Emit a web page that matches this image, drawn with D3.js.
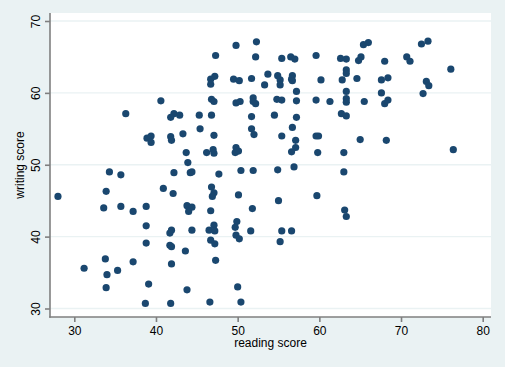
<!DOCTYPE html>
<html><head><meta charset="utf-8">
<script src="https://cdn.jsdelivr.net/npm/d3@7"></script>
<style>html,body{margin:0;padding:0;background:#eaf2f3;}svg{display:block;}</style>
</head><body>
<svg id="chart" width="505" height="367"></svg>
<script>
const xTicks = [30, 40, 50, 60, 70, 80];
const yTicks = [30, 40, 50, 60, 70];
const xTitle = "reading score";
const yTitle = "writing score";
// reading score (jittered)
const readScore = [36.3,34.3,35.7,28.0,33.9,33.6,35.7,37.2,31.2,33.8,34.0,33.9,35.3,37.2,
49.8,47.3,47.2,46.7,46.7,49.5,50.2,51.7,40.6,46.8,47.1,49.8,50.3,42.2,41.8,42.9,45.3,46.8,51.7,
52.3,52.2,55.4,56.5,57.0,59.6,62.6,63.3,65.4,66.0,65.1,64.8,53.7,53.3,54.9,55.2,55.2,56.7,56.6,56.7,
60.2,63.3,63.3,62.8,64.6,57.2,51.9,51.9,52.2,54.8,55.4,57.2,59.6,61.3,63.3,63.3,63.3,65.5,54.5,57.2,62.7,63.3,
72.5,73.3,68.0,70.7,71.1,76.1,67.6,68.4,73.1,73.4,67.6,72.7,68.0,68.4,68.2,76.4,
45.4,38.9,39.4,39.4,41.8,41.9,43.3,47.1,51.7,52.0,43.7,46.2,47.0,47.1,49.8,49.7,50.1,43.9,42.2,44.2,44.4,
47.7,50.4,51.9,40.9,42.1,46.8,47.1,46.9,50.1,38.8,43.8,44.4,44.0,46.7,51.8,49.9,47.1,38.8,
56.7,55.4,57.1,59.6,59.9,65.0,57.1,56.6,59.8,63.0,54.9,56.9,63.0,59.7,55.0,63.1,63.3,
41.7,41.9,44.4,46.5,47.2,49.7,51.6,38.8,41.7,41.9,43.6,46.7,47.2,49.8,50.2,41.9,47.3,39.1,43.8,50.0,
38.7,41.8,46.6,50.4,55.4,56.6,55.2];
// writing score (jittered)
const writeScore = [57.1,49.0,48.6,45.6,46.3,44.0,44.2,43.5,35.6,36.9,34.7,32.9,35.3,36.5,
66.6,65.2,62.3,61.9,61.2,61.9,61.7,62.0,58.9,59.1,58.8,58.6,58.8,57.1,56.6,56.9,56.9,56.9,56.7,
67.1,65.0,64.8,65.0,64.7,65.2,64.8,64.7,66.7,67.0,65.0,64.5,62.6,61.1,62.4,61.8,61.1,62.4,61.9,61.7,
61.8,63.2,62.7,61.8,62.0,60.2,59.3,58.8,58.5,59.1,59.0,58.9,59.0,58.8,60.2,59.2,58.7,58.8,56.9,56.6,57.1,56.8,
66.8,67.2,64.4,65.0,64.4,63.3,61.8,62.1,61.6,61.0,60.0,59.9,58.5,59.0,53.4,52.1,
55.0,53.7,54.0,53.1,53.9,53.4,54.3,54.1,55.0,54.2,51.7,51.7,52.1,51.6,52.4,51.7,51.9,50.3,48.9,48.9,49.0,
48.7,49.2,49.2,46.7,46.0,46.9,46.1,45.6,45.8,44.2,44.3,44.1,43.5,43.6,43.9,42.1,41.6,41.5,
55.2,54.0,53.4,54.0,54.0,53.5,52.4,51.8,51.7,51.7,49.3,49.7,49.0,45.7,45.0,43.7,42.8,
40.5,40.9,40.9,40.9,40.8,41.3,40.8,39.1,38.8,38.6,38.0,39.5,39.0,40.2,39.7,36.2,36.7,33.4,32.6,33.0,
30.7,30.7,30.9,30.9,40.8,40.8,39.3];

const svg = d3.select("#chart");
const W = 505, H = 367;
const plot = {left: 50, right: 491, top: 13, bottom: 317};
const font = "'Liberation Sans', Arial, Helvetica, sans-serif";

svg.append("rect").attr("x",0).attr("y",0).attr("width",W).attr("height",H).attr("fill","#eaf2f3");
svg.append("rect").attr("x",plot.left).attr("y",plot.top)
  .attr("width",plot.right-plot.left).attr("height",plot.bottom-plot.top).attr("fill","#ffffff");

const x = d3.scaleLinear().domain([30,80]).range([74.3,482.7]);
const y = d3.scaleLinear().domain([30,70]).range([308.5,21]);

// gridlines
svg.append("g").selectAll("line").data(yTicks).join("line")
  .attr("x1",plot.left).attr("x2",plot.right)
  .attr("y1",d=>y(d)).attr("y2",d=>y(d))
  .attr("stroke","#eaf2f3").attr("stroke-width",1.3);

// points
const data = readScore.map((r,i)=>({r:r, w:writeScore[i]}));
svg.append("g").selectAll("circle").data(data).join("circle")
  .attr("cx",d=>x(d.r)).attr("cy",d=>y(d.w)).attr("r",3.6)
  .attr("fill","#1a476f");

// axis lines
svg.append("line").attr("x1",plot.left).attr("x2",plot.left).attr("y1",plot.top).attr("y2",plot.bottom+0.8)
  .attr("stroke","#7f7f7f").attr("stroke-width",1.6);
svg.append("line").attr("x1",plot.left-0.8).attr("x2",plot.right).attr("y1",plot.bottom).attr("y2",plot.bottom)
  .attr("stroke","#7f7f7f").attr("stroke-width",1.6);

// x axis
const xAxis = d3.axisBottom(x).tickValues(xTicks).tickSize(5).tickPadding(4).tickFormat(d3.format("d"));
const gx = svg.append("g").attr("transform",`translate(0,${plot.bottom})`).call(xAxis);
gx.select(".domain").remove();
gx.selectAll(".tick line").attr("stroke","#7f7f7f").attr("stroke-width",1.6);
gx.selectAll(".tick text").attr("fill","#000").style("font-family",font).style("font-size","12px")
  .attr("dy","0.72em");

// y axis
const yAxis = d3.axisLeft(y).tickValues(yTicks).tickSize(5).tickPadding(4).tickFormat(d3.format("d"));
const gy = svg.append("g").attr("transform",`translate(${plot.left},0)`).call(yAxis);
gy.select(".domain").remove();
gy.selectAll(".tick line").attr("stroke","#7f7f7f").attr("stroke-width",1.6);
gy.selectAll(".tick text").attr("fill","#000").style("font-family",font).style("font-size","12px")
  .attr("x",null).attr("dy",null).attr("text-anchor","middle")
  .attr("transform","translate(-10,0) rotate(-90)");

// titles
svg.append("text").attr("x",(plot.left+plot.right)/2).attr("y",347).attr("text-anchor","middle")
  .style("font-family",font).style("font-size","12px").attr("fill","#000").text(xTitle);
svg.append("text").attr("transform",`translate(24,${(plot.top+plot.bottom)/2}) rotate(-90)`)
  .attr("text-anchor","middle").style("font-family",font).style("font-size","12px").attr("fill","#000").text(yTitle);
</script>
</body></html>
